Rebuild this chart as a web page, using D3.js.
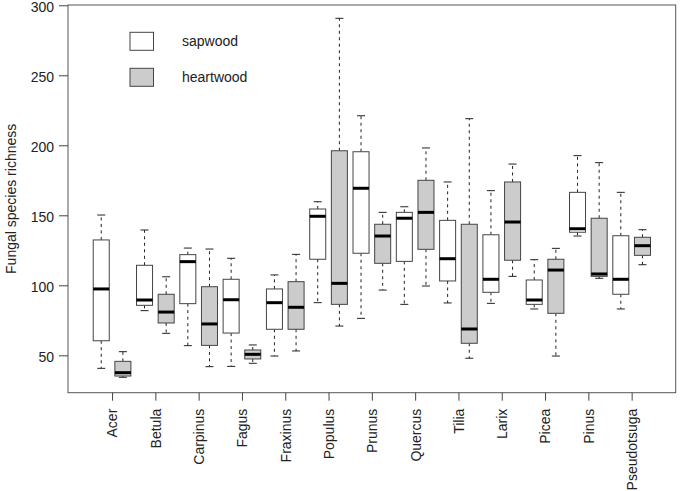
<!DOCTYPE html>
<html>
<head>
<meta charset="utf-8">
<script src="https://cdn.jsdelivr.net/npm/d3@7"></script>
<style>
  html, body { margin: 0; padding: 0; background: #fff; }
  svg text { font-family: "Liberation Sans", Arial, Helvetica, sans-serif; fill: #222; }
</style>
</head>
<body>
<svg id="chart" width="680" height="491"></svg>
<script>
// ---- data ----
const categories = ["Acer","Betula","Carpinus","Fagus","Fraxinus","Populus","Prunus","Quercus","Tilia","Larix","Picea","Pinus","Pseudotsuga"];
// [lower whisker, Q1, median, Q3, upper whisker]
const sapwood = [
  [40.7, 60.4, 97.4, 132.4, 150.2],
  [81.9, 85.7, 89.5, 114.3, 139.5],
  [56.9, 86.9, 116.9, 121.9, 126.6],
  [42.1, 65.9, 89.7, 104.3, 119.3],
  [49.5, 68.6, 87.6, 97.4, 107.4],
  [87.6, 118.6, 149.3, 154.5, 159.7],
  [76.4, 122.9, 169.3, 195.4, 221.1],
  [86.4, 117.1, 147.9, 152.1, 156.1],
  [87.4, 103.1, 119.0, 146.4, 173.8],
  [87.1, 95.0, 104.3, 136.1, 167.6],
  [83.1, 86.4, 89.5, 103.8, 118.3],
  [135.2, 137.9, 140.4, 166.4, 192.6],
  [83.1, 93.6, 104.3, 135.4, 166.4]
];
const heartwood = [
  [34.3, 35.2, 37.6, 45.7, 52.6],
  [65.7, 73.1, 80.9, 93.6, 106.1],
  [41.9, 57.1, 72.4, 99.0, 125.9],
  [44.3, 47.4, 50.7, 53.8, 57.4],
  [53.1, 68.6, 84.3, 102.6, 122.1],
  [70.9, 86.4, 101.4, 196.1, 290.7],
  [96.6, 115.7, 135.2, 143.6, 152.1],
  [99.5, 125.7, 152.1, 175.0, 198.1],
  [47.9, 58.6, 68.8, 143.6, 219.0],
  [106.4, 117.9, 145.2, 173.8, 186.6],
  [49.5, 80.0, 110.9, 118.6, 126.4],
  [105.0, 106.4, 108.1, 147.9, 187.6],
  [114.7, 121.4, 128.3, 134.3, 139.7]
];
const seriesNames = ["sapwood", "heartwood"];
const seriesFill = ["#ffffff", "#cccccc"];
const yTicks = [50, 100, 150, 200, 250, 300];
const yTitle = "Fungal species richness";

// ---- layout ----
const svg = d3.select("#chart");
const L = 68, R = 675.7, T = 5, B = 392.7;
const nBox = categories.length * 2;
const x = d3.scaleLinear().domain([-0.535, nBox + 1.535]).range([L, R]);
const y = d3.scaleLinear().domain([23.3, 300.2]).range([B, T]);
const halfW = 0.37;

// boxes
const boxes = [];
categories.forEach((c, i) => {
  boxes.push({pos: 2 * i + 1, s: sapwood[i], fill: seriesFill[0]});
  boxes.push({pos: 2 * i + 2, s: heartwood[i], fill: seriesFill[1]});
});

const g = svg.append("g");
const bg = g.selectAll("g.box").data(boxes).enter().append("g").attr("class", "box");

// whiskers (dashed)
bg.append("line")
  .attr("x1", d => x(d.pos)).attr("x2", d => x(d.pos))
  .attr("y1", d => y(d.s[3])).attr("y2", d => y(d.s[4]))
  .attr("stroke", "#222").attr("stroke-dasharray", "3,3.5");
bg.append("line")
  .attr("x1", d => x(d.pos)).attr("x2", d => x(d.pos))
  .attr("y1", d => y(d.s[1])).attr("y2", d => y(d.s[0]))
  .attr("stroke", "#222").attr("stroke-dasharray", "3,3.5");
// staples
[0, 4].forEach(k => {
  bg.append("line")
    .attr("x1", d => x(d.pos - halfW / 2)).attr("x2", d => x(d.pos + halfW / 2))
    .attr("y1", d => y(d.s[k])).attr("y2", d => y(d.s[k]))
    .attr("stroke", "#222").attr("stroke-width", 1);
});
// box
bg.append("rect")
  .attr("x", d => x(d.pos - halfW))
  .attr("width", d => x(d.pos + halfW) - x(d.pos - halfW))
  .attr("y", d => y(d.s[3]))
  .attr("height", d => y(d.s[1]) - y(d.s[3]))
  .attr("fill", d => d.fill)
  .attr("stroke", "#444").attr("stroke-width", 1);
// median
bg.append("line")
  .attr("x1", d => x(d.pos - halfW)).attr("x2", d => x(d.pos + halfW))
  .attr("y1", d => y(d.s[2])).attr("y2", d => y(d.s[2]))
  .attr("stroke", "#000").attr("stroke-width", 3);

// frame
svg.append("rect").attr("x", L).attr("y", T).attr("width", R - L).attr("height", B - T)
  .attr("fill", "none").attr("stroke", "#555").attr("stroke-width", 1);

// y axis
const yAxis = d3.axisLeft(y).tickValues(yTicks).tickSize(9).tickPadding(5);
const ya = svg.append("g").attr("transform", `translate(${L},0)`).call(yAxis);
ya.select(".domain").remove();
ya.selectAll("line").attr("stroke", "#444");
ya.selectAll("text").attr("font-size", 14).attr("fill", "#222")
  .attr("dy", "0.42em")
  .style("font-family", "Liberation Sans, Arial, sans-serif");

// x axis
const xTickPos = categories.map((c, i) => 2 * i + 1.5);
const xAxis = d3.axisBottom(x).tickValues(xTickPos).tickSize(8)
  .tickFormat((d, i) => categories[i]);
const xa = svg.append("g").attr("transform", `translate(0,${B})`).call(xAxis);
xa.select(".domain").remove();
xa.selectAll("line").attr("stroke", "#444");
xa.selectAll("text")
  .attr("font-size", 14).attr("fill", "#222")
  .style("font-family", "Liberation Sans, Arial, sans-serif")
  .attr("transform", "rotate(-90)")
  .attr("text-anchor", "end")
  .attr("x", -16).attr("y", 0).attr("dy", "0.35em");

// y title
svg.append("text")
  .attr("transform", `translate(16,${(T + B) / 2}) rotate(-90)`)
  .attr("text-anchor", "middle")
  .attr("font-size", 14)
  .text(yTitle);

// legend
const leg = svg.append("g");
seriesNames.forEach((name, i) => {
  const cy = 41.3 + i * 36;
  leg.append("rect").attr("x", 130).attr("y", cy - 9).attr("width", 23.5).attr("height", 18)
    .attr("fill", seriesFill[i]).attr("stroke", "#444");
  leg.append("text").attr("x", 182).attr("y", cy).attr("dy", "0.35em")
    .attr("font-size", 14).text(name);
});
</script>
</body>
</html>
